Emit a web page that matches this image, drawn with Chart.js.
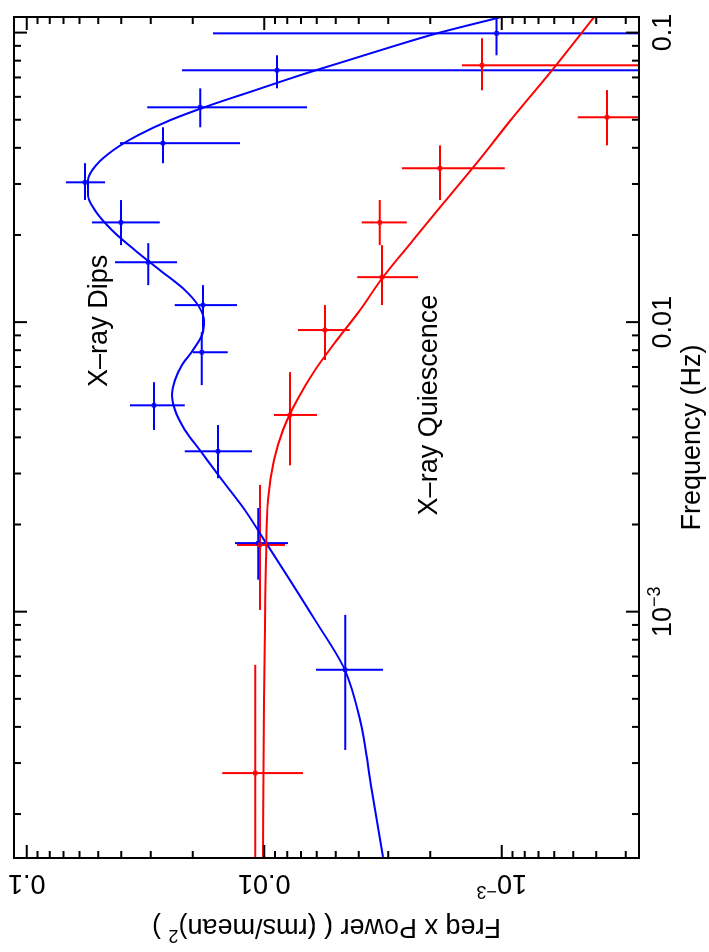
<!DOCTYPE html>
<html>
<head>
<meta charset="utf-8">
<script src="https://cdn.jsdelivr.net/npm/chart.js@4.4.1/dist/chart.umd.min.js"></script>
<style>
  html, body { margin: 0; padding: 0; background: #fff; overflow: hidden; }
  /* the plot is drawn landscape, then turned a quarter turn to the left */
  #wrap { position: absolute; left: 0; top: 0; width: 952px; height: 709px;
          transform-origin: 0 0; transform: translate(0, 952px) rotate(-90deg); }
</style>
</head>
<body>
<div id="wrap"><canvas id="psd" width="952" height="709"></canvas></div>
<script>
// X-ray dips: binned points (freq in Hz, freq x power)
const dipFreq   = [0.0994, 0.0741, 0.0552, 0.0415, 0.0304, 0.0221, 0.0161, 0.01145, 0.00787, 0.00516, 0.00358, 0.001725, 0.00063];
const dipFreqLo = [0.0835, 0.0642, 0.0471, 0.0354, 0.0264, 0.01845, 0.01342, 0.00923, 0.00606, 0.00424, 0.00289, 0.00129, 0.000333];
const dipFreqHi = [0.118, 0.0835, 0.0642, 0.0471, 0.0354, 0.0264, 0.01874, 0.01342, 0.00923, 0.0062, 0.00441, 0.00228, 0.000975];
const dipPow    = [1.05e-3, 8.83e-3, 0.0186, 0.0267, 0.0568, 0.0401, 0.0308, 0.0181, 0.0183, 0.0291, 0.01565, 0.0106, 0.00456];
const dipPowLo  = [1e-5, 1e-5, 0.0066, 0.01264, 0.0468, 0.0275, 0.0233, 0.0130, 0.01425, 0.0216, 0.01125, 0.00794, 0.00316];
const dipPowHi  = [0.01644, 0.0222, 0.0311, 0.0405, 0.0683, 0.0531, 0.0425, 0.02377, 0.020, 0.0367, 0.0216, 0.01328, 0.00605];

// X-ray quiescence: binned points
const quiFreq   = [0.0771, 0.0510, 0.0340, 0.0221, 0.0143, 0.00939, 0.00478, 0.0017, 0.000277];
const quiFreqLo = [0.0632, 0.0408, 0.0264, 0.01845, 0.01145, 0.0074, 0.0032, 0.001014, 1e-5];
const quiFreqHi = [0.0956, 0.0633, 0.0408, 0.0264, 0.01845, 0.01145, 0.00672, 0.00274, 0.000655];
const quiPow    = [1.21e-3, 3.6e-4, 1.82e-3, 3.26e-3, 3.19e-3, 5.55e-3, 7.79e-3, 0.01042, 0.0109];
const quiPowLo  = [1e-5, 1e-5, 9.7e-4, 2.51e-3, 2.25e-3, 4.36e-3, 5.99e-3, 8.17e-3, 6.86e-3];
const quiPowHi  = [1.47e-3, 4.78e-4, 2.63e-3, 3.88e-3, 4.06e-3, 7.2e-3, 9.1e-3, 0.0130, 0.01503];

// model curves
const dipModelFreq = [1.422e-4, 2.42e-4, 4.23e-4, 6.29e-4, 9.36e-4, 1.286e-3, 1.70e-3, 2.24e-3, 2.85e-3, 3.61e-3,
  4.24e-3, 4.97e-3, 5.60e-3, 6.31e-3, 7.10e-3, 8.0e-3, 9.02e-3, 0.01016, 0.01145, 0.0129, 0.01512, 0.01772,
  0.02077, 0.02435, 0.02744, 0.0309, 0.0348, 0.0392, 0.0442, 0.0498, 0.0561, 0.0632, 0.0712, 0.0802, 0.0904,
  0.0994, 0.1129];
const dipModelPow = [3.16e-3, 3.52e-3, 3.95e-3, 4.57e-3, 6.11e-3, 7.79e-3, 9.7e-3, 0.01204, 0.01506, 0.01864,
  0.02156, 0.02375, 0.02445, 0.02375, 0.0222, 0.01995, 0.01828, 0.01793, 0.0190, 0.02156, 0.02747, 0.0350,
  0.0437, 0.0516, 0.0552, 0.0552, 0.0511, 0.0433, 0.0340, 0.02492, 0.01691, 0.01093, 7.07e-3, 4.437e-3, 2.77e-3,
  1.873e-3, 1.016e-3];
const quiModelFreq = [1.422e-4, 4.96e-4, 1.508e-3, 2.43e-3, 3.34e-3, 4.24e-3, 5.38e-3, 6.83e-3, 8.67e-3, 0.0110,
  0.0143, 0.01919, 0.02637, 0.03624, 0.0510, 0.0741, 0.1129];
const quiModelPow = [0.01012, 0.01002, 9.83e-3, 9.64e-3, 9.09e-3, 8.33e-3, 7.27e-3, 6.11e-3, 4.94e-3, 3.95e-3,
  3.16e-3, 2.36e-3, 1.716e-3, 1.246e-3, 8.96e-4, 6.14e-4, 4.09e-4];

// axes
const freqMin = 1.41e-4, freqMax = 0.1132;
const powMin = 2.64e-4, powMax = 0.1131;
const tickValues = [0.001, 0.01, 0.1];
const tickLabels = [['10', '\u22123'], ['0.01'], ['0.1']];

const BLUE = '#0000ff';
const RED = '#ff0000';
const FONT = '"Liberation Sans", Arial, sans-serif';
const FS = 27;

const errSets = [
  { color: BLUE, f: dipFreq, fLo: dipFreqLo, fHi: dipFreqHi, p: dipPow, pLo: dipPowLo, pHi: dipPowHi },
  { color: RED,  f: quiFreq, fLo: quiFreqLo, fHi: quiFreqHi, p: quiPow, pLo: quiPowLo, pHi: quiPowHi }
];

function xy(xs, ys) {
  return xs.map((x, i) => ({ x: x, y: ys[i] }));
}

// "10" with a raised "-3", centred on x, baseline at y
function richText(ctx, parts, x, y, size) {
  const small = Math.round(size * 0.68);
  ctx.font = size + 'px ' + FONT;
  const w0 = ctx.measureText(parts[0]).width;
  let w1 = 0;
  if (parts[1]) {
    ctx.font = small + 'px ' + FONT;
    w1 = ctx.measureText(parts[1]).width;
  }
  const sx = x - (w0 + w1) / 2;
  ctx.textAlign = 'left';
  ctx.textBaseline = 'alphabetic';
  ctx.font = size + 'px ' + FONT;
  ctx.fillText(parts[0], sx, y);
  if (parts[1]) {
    ctx.font = small + 'px ' + FONT;
    ctx.fillText(parts[1], sx + w0, y - size * 0.42);
  }
}

const errorBars = {
  id: 'errorBars',
  beforeDatasetsDraw(chart) {
    const { ctx, chartArea: a, scales: { x, y } } = chart;
    ctx.save();
    ctx.beginPath();
    ctx.rect(a.left, a.top, a.right - a.left, a.bottom - a.top);
    ctx.clip();
    ctx.lineWidth = 2;
    errSets.forEach(s => {
      ctx.strokeStyle = s.color;
      s.f.forEach((f, i) => {
        const px = x.getPixelForValue(f), py = y.getPixelForValue(s.p[i]);
        ctx.beginPath();
        ctx.moveTo(x.getPixelForValue(s.fLo[i]), py);
        ctx.lineTo(x.getPixelForValue(s.fHi[i]), py);
        ctx.moveTo(px, y.getPixelForValue(s.pLo[i]));
        ctx.lineTo(px, y.getPixelForValue(s.pHi[i]));
        ctx.stroke();
      });
    });
    ctx.restore();
  }
};

const frame = {
  id: 'frame',
  afterDraw(chart) {
    const { ctx, chartArea: a, scales: { x, y } } = chart;
    ctx.save();
    ctx.strokeStyle = '#000';
    ctx.fillStyle = '#000';
    ctx.lineWidth = 2;
    ctx.lineCap = 'butt';
    ctx.strokeRect(a.left, a.top, a.right - a.left, a.bottom - a.top);

    // log ticks on all four sides, pointing in
    ctx.beginPath();
    for (let e = -5; e <= 0; e++) {
      for (let m = 1; m <= 9; m++) {
        const v = m * Math.pow(10, e);
        const len = m === 1 ? 13 : 7;
        if (v >= freqMin && v <= freqMax) {
          const px = x.getPixelForValue(v);
          ctx.moveTo(px, a.bottom); ctx.lineTo(px, a.bottom - len);
          ctx.moveTo(px, a.top); ctx.lineTo(px, a.top + len);
        }
        if (v >= powMin && v <= powMax) {
          const py = y.getPixelForValue(v);
          ctx.moveTo(a.left, py); ctx.lineTo(a.left + len, py);
          ctx.moveTo(a.right, py); ctx.lineTo(a.right - len, py);
        }
      }
    }
    ctx.stroke();

    // frequency labels under the axis
    tickValues.forEach((v, i) => {
      richText(ctx, tickLabels[i], x.getPixelForValue(v), a.bottom + 32, FS);
    });
    ctx.font = FS + 'px ' + FONT;
    ctx.textAlign = 'center';
    ctx.textBaseline = 'alphabetic';
    ctx.fillText('Frequency (Hz)', (a.left + a.right) / 2, a.bottom + 61);

    // power labels, written up the side
    tickValues.forEach((v, i) => {
      ctx.save();
      ctx.translate(a.left - 17, y.getPixelForValue(v));
      ctx.rotate(-Math.PI / 2);
      richText(ctx, tickLabels[i], 0, 0, FS);
      ctx.restore();
    });
    ctx.save();
    ctx.translate(a.left - 61, (a.top + a.bottom) / 2);
    ctx.rotate(-Math.PI / 2);
    ctx.font = FS + 'px ' + FONT;
    const t1 = 'Freq x Power ( (rms/mean)', t2 = '2', t3 = ' )';
    const w1 = ctx.measureText(t1).width, w3 = ctx.measureText(t3).width;
    ctx.font = Math.round(FS * 0.68) + 'px ' + FONT;
    const w2 = ctx.measureText(t2).width;
    let sx = -(w1 + w2 + w3) / 2;
    ctx.textAlign = 'left';
    ctx.font = FS + 'px ' + FONT;
    ctx.fillText(t1, sx, 0);
    ctx.font = Math.round(FS * 0.68) + 'px ' + FONT;
    ctx.fillText(t2, sx + w1, -FS * 0.42);
    ctx.font = FS + 'px ' + FONT;
    ctx.fillText(t3, sx + w1 + w2, 0);
    ctx.restore();

    // curve names
    ctx.textAlign = 'center';
    ctx.fillText('X\u2013ray Dips', x.getPixelForValue(0.0101), y.getPixelForValue(0.0459));
    ctx.fillText('X\u2013ray Quiescence', x.getPixelForValue(0.00517), y.getPixelForValue(0.00187));
    ctx.restore();
  }
};

new Chart(document.getElementById('psd'), {
  data: {
    datasets: [
      { type: 'line', data: xy(quiModelFreq, quiModelPow), borderColor: RED, borderWidth: 2,
        pointRadius: 0, cubicInterpolationMode: 'monotone', fill: false },
      { type: 'line', data: xy(dipModelFreq, dipModelPow), borderColor: BLUE, borderWidth: 2,
        pointRadius: 0, cubicInterpolationMode: 'monotone', fill: false },
      { type: 'scatter', data: xy(quiFreq, quiPow), borderColor: RED, backgroundColor: 'rgba(0,0,0,0)',
        pointStyle: 'rect', pointRadius: 2.5, borderWidth: 1 },
      { type: 'scatter', data: xy(dipFreq, dipPow), borderColor: BLUE, backgroundColor: 'rgba(0,0,0,0)',
        pointStyle: 'rect', pointRadius: 2.5, borderWidth: 1 }
    ]
  },
  options: {
    responsive: false,
    animation: false,
    devicePixelRatio: 1,
    layout: { padding: { left: 94, right: 17, top: 14, bottom: 70 } },
    plugins: { legend: { display: false }, tooltip: { enabled: false } },
    scales: {
      x: { type: 'logarithmic', min: freqMin, max: freqMax, display: false },
      y: { type: 'logarithmic', min: powMin, max: powMax, display: false }
    }
  },
  plugins: [errorBars, frame]
});
</script>
</body>
</html>
